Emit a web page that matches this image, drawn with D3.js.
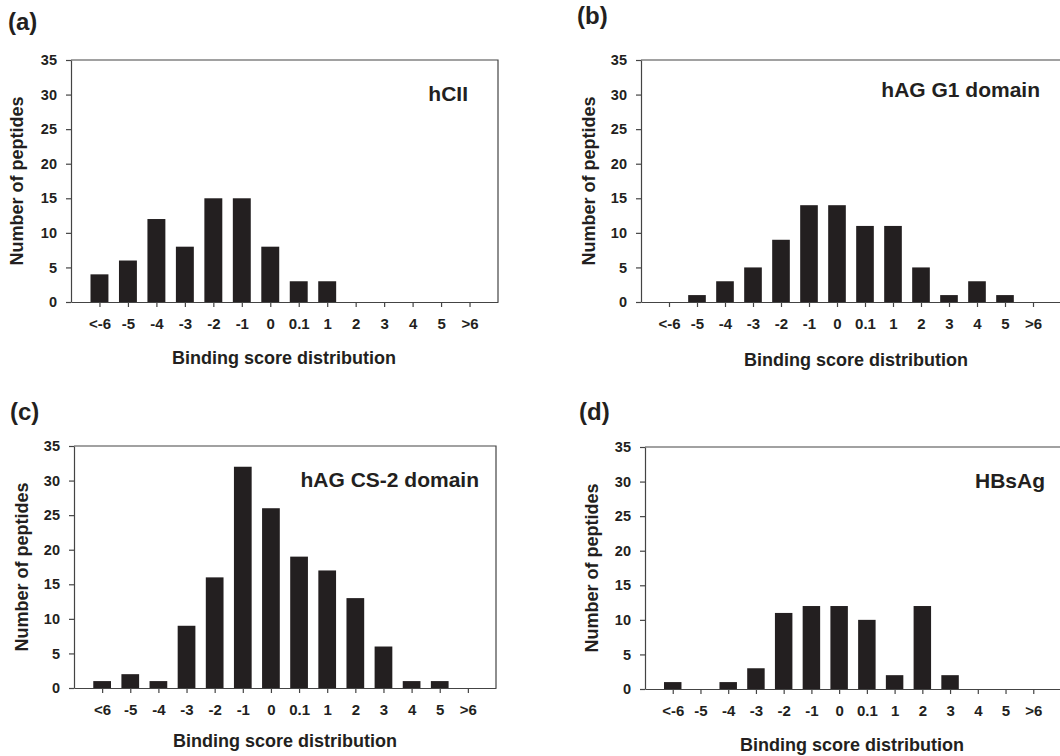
<!DOCTYPE html>
<html>
<head>
<meta charset="utf-8">
<script src="https://cdn.jsdelivr.net/npm/d3@7"></script>
<style>
  body { margin: 0; background: #fff; }
  svg { display: block; font-family: "Liberation Sans", Arial, sans-serif; font-weight: bold; }
  .axis path, .axis line { stroke: #444; stroke-width: 1.2; }
  .axis text { fill: #231f20; font-weight: bold; font-family: "Liberation Sans", Arial, sans-serif; }
  .frame { fill: none; stroke: #444; stroke-width: 1.2; }
  .bar { fill: #231f20; }
</style>
</head>
<body>
<div id="chart"></div>
<script>
// categories on the x axis
const binsStd = ["<-6", "-5", "-4", "-3", "-2", "-1", "0", "0.1", "1", "2", "3", "4", "5", ">6"];
const binsC = ["<6", "-5", "-4", "-3", "-2", "-1", "0", "0.1", "1", "2", "3", "4", "5", ">6"];

// number of peptides per bin
const countsHCII = [4, 6, 12, 8, 15, 15, 8, 3, 3, 0, 0, 0, 0, 0];
const countsG1 = [0, 1, 3, 5, 9, 14, 14, 11, 11, 5, 1, 3, 1, 0];
const countsCS2 = [1, 2, 1, 9, 16, 32, 26, 19, 17, 13, 6, 1, 1, 0];
const countsHBsAg = [1, 0, 1, 3, 11, 12, 12, 10, 2, 12, 2, 0, 0, 0];

const yTicks = [0, 5, 10, 15, 20, 25, 30, 35];

const panels = [
  { tag: "(a)", name: "hCII", bins: binsStd, values: countsHCII,
    left: 71, top: 60, bottom: 302, right: 498,
    tagPos: [8, 30], namePos: [468, 101], yTitleX: 23, xTitle: [284, 364] },
  { tag: "(b)", name: "hAG G1 domain", bins: binsStd, values: countsG1,
    left: 641, top: 60, bottom: 302, right: 1061,
    tagPos: [577, 24], namePos: [1040, 97], yTitleX: 595, xTitle: [856, 366] },
  { tag: "(c)", name: "hAG CS-2 domain", bins: binsC, values: countsCS2,
    left: 74, top: 446, bottom: 688, right: 496,
    tagPos: [10, 420], namePos: [479, 487], yTitleX: 28, xTitle: [285, 747] },
  { tag: "(d)", name: "HBsAg", bins: binsStd, values: countsHBsAg,
    left: 645, top: 447, bottom: 689, right: 1061,
    tagPos: [579, 420], namePos: [1045, 488], yTitleX: 598, xTitle: [852, 751] }
];

const svg = d3.select("#chart").append("svg")
  .attr("width", 1060)
  .attr("height", 756);

panels.forEach(drawPanel);

function drawPanel(p) {
  let x = d3.scalePoint()
    .domain(p.bins)
    .range([p.left, p.right])
    .padding(1);
  let y = d3.scaleLinear()
    .domain([0, 35])
    .range([p.bottom, p.top]);

  let g = svg.append("g");
  let barW = x.step() * 0.63;

  // bars
  g.selectAll(".bar")
    .data(p.values.map((v, i) => ({ bin: p.bins[i], v: v })))
    .enter()
    .append("rect")
    .attr("class", "bar")
    .attr("x", (d) => x(d.bin) - barW / 2)
    .attr("width", barW)
    .attr("y", (d) => y(d.v))
    .attr("height", (d) => y(0) - y(d.v));

  // frame (top + right)
  g.append("path")
    .attr("class", "frame")
    .attr("d", "M" + p.left + "," + p.top + "H" + p.right + "V" + p.bottom);

  // x axis
  let xAxis = g.append("g")
    .attr("class", "axis")
    .attr("transform", "translate(0," + p.bottom + ")")
    .call(d3.axisBottom(x).tickSizeInner(5).tickSizeOuter(0).tickPadding(11));
  xAxis.selectAll("text").style("font-size", "15px");

  // y axis
  let yAxis = g.append("g")
    .attr("class", "axis")
    .attr("transform", "translate(" + p.left + ",0)")
    .call(d3.axisLeft(y).tickValues(yTicks).tickSizeInner(5).tickSizeOuter(0).tickPadding(9));
  yAxis.selectAll("text").style("font-size", "14.5px");

  // titles
  g.append("text")
    .attr("x", p.xTitle[0])
    .attr("y", p.xTitle[1])
    .attr("text-anchor", "middle")
    .style("font-size", "18px")
    .attr("fill", "#231f20")
    .text("Binding score distribution");

  g.append("text")
    .attr("transform", "translate(" + p.yTitleX + "," + (p.top + p.bottom) / 2 + ") rotate(-90)")
    .attr("text-anchor", "middle")
    .style("font-size", "18px")
    .attr("fill", "#231f20")
    .text("Number of peptides");

  g.append("text")
    .attr("x", p.namePos[0])
    .attr("y", p.namePos[1])
    .attr("text-anchor", "end")
    .style("font-size", "21px")
    .attr("fill", "#231f20")
    .text(p.name);

  g.append("text")
    .attr("x", p.tagPos[0])
    .attr("y", p.tagPos[1])
    .style("font-size", "24px")
    .attr("fill", "#231f20")
    .text(p.tag);
}
</script>
</body>
</html>
